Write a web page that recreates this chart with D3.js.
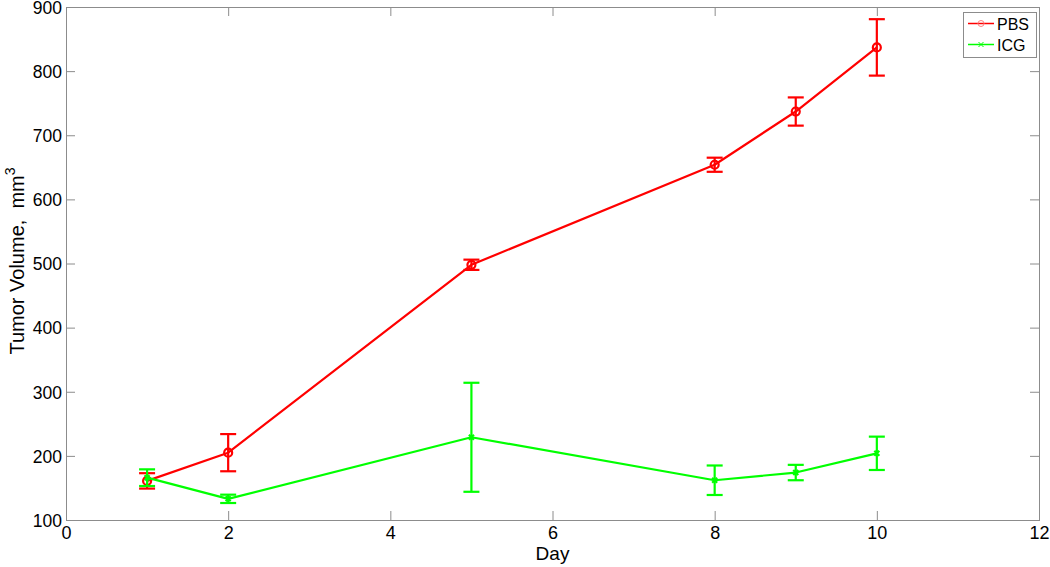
<!DOCTYPE html>
<html>
<head>
<meta charset="utf-8">
<script src="https://cdn.jsdelivr.net/npm/d3@7"></script>
<style>
  body { margin: 0; background: #fff; }
  svg { display: block; font-family: "Liberation Sans", Helvetica, Arial, sans-serif; }
</style>
</head>
<body>
<svg id="chart" width="1050" height="567"></svg>
<script>
// Tumor volume vs. day, mean with error bars
const days = [1, 2, 5, 8, 9, 10];
const pbsMean = [161, 205, 498, 654, 737, 837];
const pbsErr = [12, 29, 8, 11, 22, 44];
const icgMean = [166, 133, 229, 162, 174, 204];
const icgErr = [13, 6.5, 85, 23, 12, 26];
const xTicks = [0, 2, 4, 6, 8, 10, 12];
const yTicks = [100, 200, 300, 400, 500, 600, 700, 800, 900];

const series = [
  { name: 'PBS', color: '#ff0000', marker: 'o', mean: pbsMean, err: pbsErr },
  { name: 'ICG', color: '#00ff00', marker: 'x', mean: icgMean, err: icgErr },
];

const svg = d3.select('#chart');
const box = { left: 66, right: 1039, top: 7, bottom: 520 };

const x = d3.scaleLinear().domain([0, 12]).range([box.left, box.right]);
const y = d3.scaleLinear().domain([100, 900]).range([box.bottom, box.top]);

const axisColor = '#8c8c8c';
const tickLen = 9;

// axes: ticks point inward on all four sides (matlab box on)
function styleAxis(g) {
  g.select('.domain').remove();
  g.selectAll('.tick line').attr('stroke', axisColor).attr('stroke-width', 1);
  g.selectAll('.tick text').attr('fill', '#000').style('font-size', '18px');
}

svg.append('g')
  .attr('transform', `translate(0,${box.bottom})`)
  .call(d3.axisBottom(x).tickValues(xTicks).tickSize(-tickLen).tickPadding(6))
  .call(styleAxis);

svg.append('g')
  .attr('transform', `translate(0,${box.top})`)
  .call(d3.axisTop(x).tickValues(xTicks).tickSize(-tickLen).tickFormat(''))
  .call(styleAxis);

svg.append('g')
  .attr('transform', `translate(${box.left},0)`)
  .call(d3.axisLeft(y).tickValues(yTicks).tickSize(-tickLen).tickPadding(4))
  .call(styleAxis)
  .call(g => g.selectAll('.tick text').style('font-size', '17.5px').attr('dy', '0.36em'));

svg.append('g')
  .attr('transform', `translate(${box.right},0)`)
  .call(d3.axisRight(y).tickValues(yTicks).tickSize(-tickLen).tickFormat(''))
  .call(styleAxis);

svg.append('rect')
  .attr('x', box.left + 0.5).attr('y', box.top + 0.5)
  .attr('width', box.right - box.left).attr('height', box.bottom - box.top)
  .attr('fill', 'none').attr('stroke', axisColor).attr('stroke-width', 1);

// axis labels
svg.append('text')
  .attr('x', (box.left + box.right) / 2).attr('y', 560)
  .attr('text-anchor', 'middle').style('font-size', '19px')
  .text('Day');

const yl = svg.append('text')
  .attr('transform', `translate(24,261) rotate(-90)`)
  .attr('text-anchor', 'middle').style('font-size', '20px');
yl.append('tspan').text('Tumor Volume,\u00a0\u00a0mm');
yl.append('tspan').attr('dy', -9).style('font-size', '14px').text('3');

// data
const line = d3.line().x(d => x(d.day)).y(d => y(d.mean));
const capHalf = 8;

series.forEach(s => {
  const pts = days.map((d, i) => ({ day: d, mean: s.mean[i], err: s.err[i] }));
  const g = svg.append('g').attr('stroke', s.color).attr('fill', 'none').attr('stroke-width', 2.2);

  const eb = g.selectAll('g.err').data(pts).enter().append('g').attr('class', 'err');
  eb.append('line')
    .attr('x1', d => x(d.day)).attr('x2', d => x(d.day))
    .attr('y1', d => y(d.mean - d.err)).attr('y2', d => y(d.mean + d.err));
  eb.append('line')
    .attr('x1', d => x(d.day) - capHalf).attr('x2', d => x(d.day) + capHalf)
    .attr('y1', d => y(d.mean + d.err)).attr('y2', d => y(d.mean + d.err));
  eb.append('line')
    .attr('x1', d => x(d.day) - capHalf).attr('x2', d => x(d.day) + capHalf)
    .attr('y1', d => y(d.mean - d.err)).attr('y2', d => y(d.mean - d.err));

  g.append('path').datum(pts).attr('d', line).attr('stroke-linejoin', 'round');

  if (s.marker === 'o') {
    g.selectAll('circle').data(pts).enter().append('circle')
      .attr('cx', d => x(d.day)).attr('cy', d => y(d.mean)).attr('r', 4);
  } else {
    g.selectAll('path.mk').data(pts).enter().append('path').attr('class', 'mk')
      .attr('d', d => {
        const cx = x(d.day), cy = y(d.mean), r = 2.5;
        return `M${cx - r},${cy - r}L${cx + r},${cy + r}M${cx - r},${cy + r}L${cx + r},${cy - r}`;
      });
  }
});

// legend
const lg = svg.append('g');
lg.append('rect')
  .attr('x', 963.5).attr('y', 12.5).attr('width', 73).attr('height', 45)
  .attr('fill', '#fff').attr('stroke', axisColor).attr('stroke-width', 1);

series.forEach((s, i) => {
  const ly = 23.5 + i * 21;
  const eg = lg.append('g').attr('stroke', s.color).attr('fill', 'none');
  eg.append('line').attr('x1', 968).attr('x2', 994).attr('y1', ly).attr('y2', ly).attr('stroke-width', 1.5);
  if (s.marker === 'o') {
    eg.append('circle').attr('cx', 981).attr('cy', ly).attr('r', 3).attr('stroke', '#ff8080').attr('stroke-width', 1);
  } else {
    eg.append('path').attr('stroke-width', 1)
      .attr('d', `M978.5,${ly - 2.5}L983.5,${ly + 2.5}M978.5,${ly + 2.5}L983.5,${ly - 2.5}`);
  }
  lg.append('text')
    .attr('x', 997).attr('y', ly + 6)
    .style('font-size', '16px').text(s.name);
});
</script>
</body>
</html>
